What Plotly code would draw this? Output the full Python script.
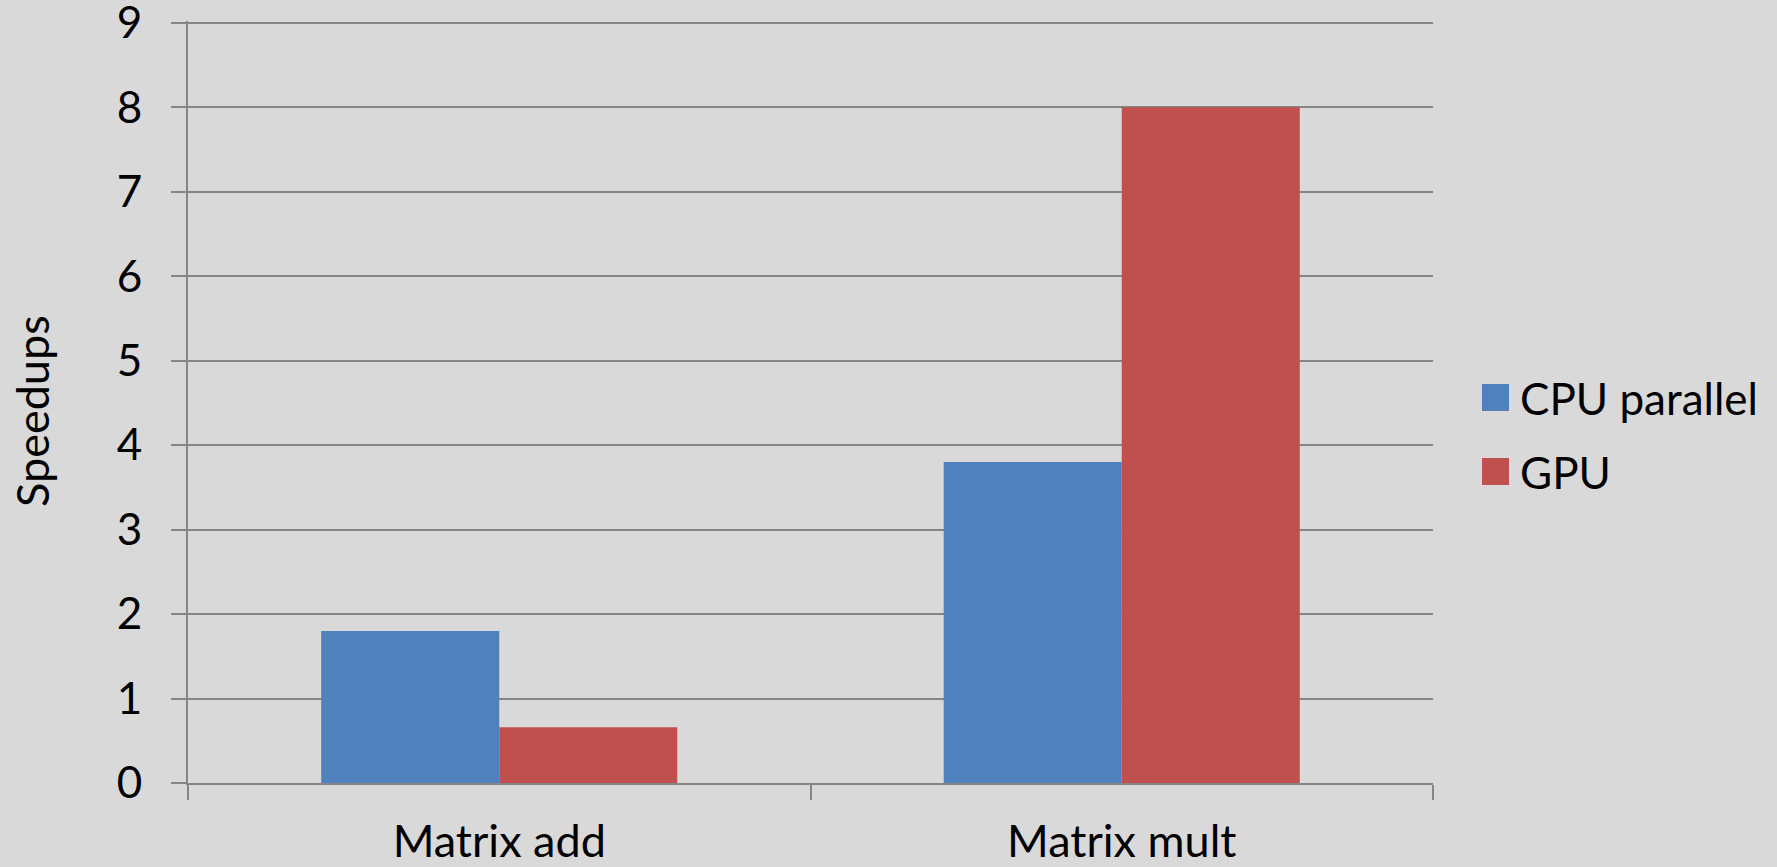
import plotly.graph_objects as go

# Data
categories = ["Matrix add", "Matrix mult"]
series_names = ["CPU parallel", "GPU"]
cpu_parallel = [1.8, 3.8]
gpu = [0.66, 8.0]
y_ticks = list(range(0, 10))
y_title = "Speedups"

colors = ["#4F81BD", "#C0504D"]
series_values = [cpu_parallel, gpu]

W, H = 1777, 867
Y_TOP = 9.02  # a hair above 9 so the top gridline is still drawn
M_L, M_R, M_T, M_B = 188, 344, 21, 84
PLOT_W = W - M_L - M_R
PLOT_H = H - M_T - M_B

FONT = "Lato, 'Open Sans', sans-serif"
GRID = "#868686"
BG = "#D9D9D9"

fig = go.Figure()
for name, vals, col in zip(series_names, series_values, colors):
    fig.add_trace(go.Bar(
        x=categories, y=vals, name=name,
        marker=dict(color=col, line=dict(width=0)),
        showlegend=False,
    ))


def px_to_paper_x(px):
    return (px - M_L) / PLOT_W


def px_to_paper_y(py):
    return (H - M_B - py) / PLOT_H


# Legend drawn as large swatches + labels to the right of the plot
shapes = []
annotations = []
legend_sw_left = 1482
legend_sw_size = 27
legend_first_center = 397.5
legend_row_step = 74
for i, (name, col) in enumerate(zip(series_names, colors)):
    cy = legend_first_center + i * legend_row_step
    shapes.append(dict(
        type="rect", xref="paper", yref="paper",
        x0=px_to_paper_x(legend_sw_left),
        x1=px_to_paper_x(legend_sw_left + legend_sw_size),
        y0=px_to_paper_y(cy + legend_sw_size / 2),
        y1=px_to_paper_y(cy - legend_sw_size / 2),
        fillcolor=col, line=dict(width=0), layer="above",
    ))
    annotations.append(dict(
        text=name, xref="paper", yref="paper",
        x=px_to_paper_x(1518), y=px_to_paper_y(cy),
        xanchor="left", yanchor="middle", showarrow=False,
        font=dict(family=FONT, size=44, color="black"),
    ))

# Vertical y-axis title
annotations.append(dict(
    text=y_title, xref="paper", yref="paper",
    x=px_to_paper_x(32), y=px_to_paper_y(411),
    xanchor="center", yanchor="middle", textangle=-90, showarrow=False,
    font=dict(family=FONT, size=45, color="black"),
))

fig.update_layout(
    width=W, height=H,
    margin=dict(l=M_L, r=M_R, t=M_T, b=M_B, autoexpand=False),
    paper_bgcolor=BG, plot_bgcolor=BG,
    barmode="group", bargap=0.428, bargroupgap=0,
    font=dict(family=FONT, size=44, color="black"),
    shapes=shapes, annotations=annotations,
    showlegend=False,
)

fig.update_yaxes(
    range=[0, Y_TOP], tickvals=y_ticks, ticktext=[str(v) for v in y_ticks],
    showgrid=True, gridcolor=GRID, gridwidth=2,
    showline=True, linecolor=GRID, linewidth=2,
    ticks="outside", ticklen=15, tickwidth=2, tickcolor=GRID,
    tickfont=dict(family=FONT, size=44, color="black"),
    ticklabelstandoff=20, ticklabeloverflow="allow",
    zeroline=False, automargin=False,
)
fig.update_xaxes(
    type="category", tickson="boundaries",
    showgrid=False, showline=True, linecolor=GRID, linewidth=2,
    ticks="outside", ticklen=15, tickwidth=2, tickcolor=GRID,
    tickfont=dict(family=FONT, size=45, color="black"),
    ticklabelstandoff=18, ticklabeloverflow="allow",
    automargin=False,
)

fig.write_html("out.html")
